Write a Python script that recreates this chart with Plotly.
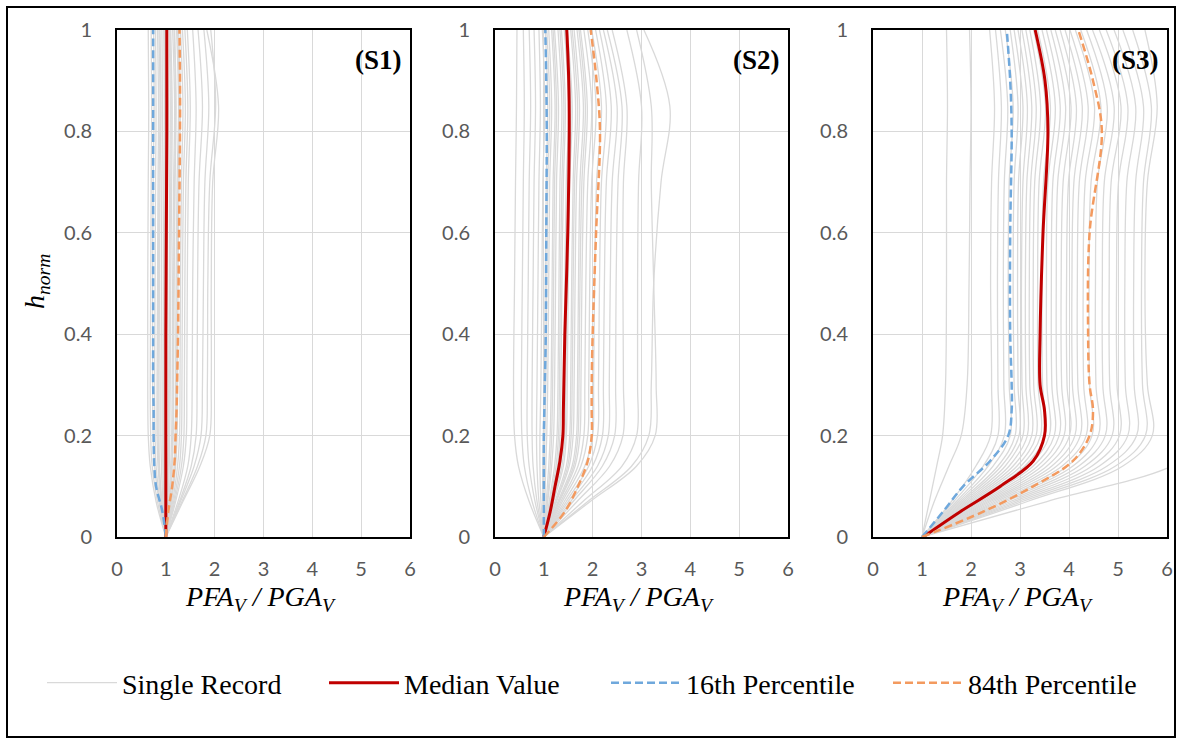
import plotly.graph_objects as go

# ---------------- data ----------------
H_REC = [0, 0.07, 0.14, 0.2, 0.3, 0.5, 0.7, 0.85, 1.0]
H_STAT = [0, 0.05, 0.1, 0.15, 0.2, 0.25, 0.3, 0.4, 0.6, 0.8, 0.9, 1.0]

S1_RECORDS = [
    [1, 0.80, 0.68, 0.64, 0.63, 0.63, 0.64, 0.65, 0.64],
    [1, 0.83, 0.72, 0.69, 0.68, 0.69, 0.70, 0.71, 0.70],
    [1, 0.86, 0.77, 0.74, 0.73, 0.73, 0.74, 0.76, 0.75],
    [1, 0.88, 0.80, 0.78, 0.77, 0.78, 0.79, 0.80, 0.79],
    [1, 0.90, 0.84, 0.82, 0.82, 0.83, 0.84, 0.85, 0.83],
    [1, 0.91, 0.86, 0.84, 0.84, 0.85, 0.86, 0.88, 0.86],
    [1, 0.92, 0.87, 0.86, 0.86, 0.87, 0.88, 0.90, 0.88],
    [1, 0.94, 0.91, 0.90, 0.90, 0.91, 0.92, 0.93, 0.92],
    [1, 0.96, 0.94, 0.94, 0.94, 0.95, 0.96, 0.97, 0.96],
    [1, 0.97, 0.96, 0.96, 0.96, 0.97, 0.98, 0.99, 0.97],
    [1, 0.98, 0.97, 0.97, 0.98, 0.99, 1.00, 1.01, 1.00],
    [1, 1.00, 1.01, 1.01, 1.02, 1.03, 1.04, 1.05, 1.03],
    [1, 1.02, 1.04, 1.05, 1.06, 1.07, 1.08, 1.09, 1.07],
    [1, 1.03, 1.05, 1.06, 1.07, 1.08, 1.10, 1.11, 1.09],
    [1, 1.04, 1.07, 1.08, 1.09, 1.10, 1.12, 1.13, 1.10],
    [1, 1.06, 1.10, 1.12, 1.13, 1.14, 1.16, 1.18, 1.14],
    [1, 1.07, 1.12, 1.14, 1.15, 1.16, 1.18, 1.20, 1.17],
    [1, 1.08, 1.13, 1.15, 1.16, 1.17, 1.19, 1.21, 1.18],
    [1, 1.10, 1.17, 1.19, 1.20, 1.21, 1.23, 1.26, 1.22],
    [1, 1.11, 1.19, 1.21, 1.22, 1.23, 1.25, 1.28, 1.24],
    [1, 1.12, 1.20, 1.23, 1.24, 1.25, 1.27, 1.30, 1.26],
    [1, 1.14, 1.24, 1.28, 1.29, 1.30, 1.32, 1.35, 1.30],
    [1, 1.16, 1.28, 1.32, 1.33, 1.34, 1.36, 1.40, 1.34],
    [1, 1.18, 1.32, 1.37, 1.38, 1.39, 1.41, 1.45, 1.39],
    [1, 1.20, 1.36, 1.42, 1.43, 1.44, 1.46, 1.50, 1.44],
    [1, 1.25, 1.45, 1.52, 1.54, 1.55, 1.58, 1.62, 1.55],
    [1, 1.28, 1.52, 1.62, 1.64, 1.65, 1.68, 1.75, 1.66],
    [1, 1.30, 1.58, 1.72, 1.75, 1.77, 1.80, 1.88, 1.78],
    [1, 1.33, 1.65, 1.82, 1.85, 1.86, 1.90, 2.02, 1.92],
    [1, 1.35, 1.70, 1.90, 1.93, 1.93, 1.96, 2.08, 1.84],
]

S2_RECORDS = [
    [1, 0.70, 0.48, 0.40, 0.38, 0.40, 0.42, 0.44, 0.45],
    [1, 0.76, 0.60, 0.55, 0.54, 0.56, 0.58, 0.60, 0.58],
    [1, 0.82, 0.70, 0.66, 0.66, 0.68, 0.70, 0.73, 0.70],
    [1, 0.86, 0.78, 0.76, 0.76, 0.78, 0.80, 0.83, 0.80],
    [1, 0.90, 0.86, 0.85, 0.86, 0.88, 0.90, 0.93, 0.90],
    [1, 0.94, 0.92, 0.92, 0.94, 0.96, 0.98, 1.02, 0.97],
    [1, 0.98, 0.98, 0.99, 1.01, 1.03, 1.05, 1.08, 1.03],
    [1, 1.00, 1.01, 1.02, 1.04, 1.06, 1.08, 1.12, 1.06],
    [1, 1.02, 1.04, 1.06, 1.08, 1.10, 1.12, 1.16, 1.10],
    [1, 1.05, 1.10, 1.13, 1.15, 1.17, 1.19, 1.23, 1.16],
    [1, 1.07, 1.13, 1.16, 1.18, 1.20, 1.22, 1.26, 1.19],
    [1, 1.08, 1.16, 1.20, 1.22, 1.24, 1.26, 1.30, 1.22],
    [1, 1.11, 1.22, 1.27, 1.29, 1.31, 1.33, 1.37, 1.29],
    [1, 1.13, 1.25, 1.30, 1.32, 1.34, 1.37, 1.41, 1.33],
    [1, 1.14, 1.28, 1.33, 1.35, 1.37, 1.40, 1.44, 1.36],
    [1, 1.17, 1.34, 1.39, 1.41, 1.43, 1.46, 1.51, 1.42],
    [1, 1.19, 1.37, 1.43, 1.45, 1.47, 1.50, 1.55, 1.45],
    [1, 1.20, 1.40, 1.46, 1.48, 1.50, 1.53, 1.58, 1.48],
    [1, 1.23, 1.46, 1.53, 1.55, 1.57, 1.60, 1.65, 1.55],
    [1, 1.25, 1.49, 1.56, 1.58, 1.60, 1.63, 1.69, 1.58],
    [1, 1.26, 1.52, 1.60, 1.62, 1.64, 1.67, 1.73, 1.62],
    [1, 1.29, 1.58, 1.67, 1.69, 1.71, 1.74, 1.81, 1.68],
    [1, 1.31, 1.61, 1.70, 1.72, 1.74, 1.78, 1.85, 1.72],
    [1, 1.32, 1.64, 1.74, 1.76, 1.78, 1.82, 1.89, 1.75],
    [1, 1.35, 1.70, 1.82, 1.84, 1.86, 1.90, 1.98, 1.82],
    [1, 1.38, 1.76, 1.90, 1.92, 1.94, 1.98, 2.07, 1.90],
    [1, 1.42, 1.84, 2.00, 2.02, 2.04, 2.08, 2.18, 1.98],
    [1, 1.46, 1.92, 2.10, 2.12, 2.14, 2.18, 2.28, 2.06],
    [1, 1.50, 2.00, 2.20, 2.22, 2.24, 2.28, 2.38, 2.14],
    [1, 1.55, 2.10, 2.32, 2.34, 2.36, 2.40, 2.50, 2.22],
    [1, 1.60, 2.20, 2.45, 2.47, 2.48, 2.52, 2.60, 2.30],
    [1, 1.68, 2.35, 2.62, 2.63, 2.62, 2.63, 2.70, 2.40],
    [1, 1.80, 2.60, 2.90, 2.92, 2.92, 2.94, 3.00, 2.70],
    [1, 1.95, 2.90, 3.28, 3.30, 3.25, 3.20, 3.20, 2.90],
    [1, 1.90, 2.80, 3.15, 3.20, 3.25, 3.40, 3.58, 3.05],
]

S3_RECORDS = [
    [1, 1.15, 1.30, 1.42, 1.48, 1.50, 1.50, 1.52, 1.50],
    [1, 1.25, 1.55, 1.80, 1.92, 1.96, 1.98, 2.00, 1.97],
    [1, 1.60, 2.10, 2.40, 2.42, 2.40, 2.42, 2.48, 2.38],
    [1, 1.65, 2.25, 2.55, 2.55, 2.54, 2.56, 2.62, 2.50],
    [1, 1.70, 2.35, 2.68, 2.67, 2.66, 2.68, 2.75, 2.60],
    [1, 1.74, 2.45, 2.80, 2.78, 2.76, 2.78, 2.86, 2.70],
    [1, 1.78, 2.55, 2.90, 2.88, 2.86, 2.88, 2.96, 2.80],
    [1, 1.82, 2.62, 2.98, 2.96, 2.95, 2.97, 3.06, 2.88],
    [1, 1.86, 2.70, 3.06, 3.04, 3.03, 3.06, 3.15, 2.96],
    [1, 1.90, 2.78, 3.15, 3.12, 3.11, 3.14, 3.24, 3.04],
    [1, 1.94, 2.86, 3.24, 3.20, 3.19, 3.22, 3.33, 3.12],
    [1, 1.98, 2.94, 3.33, 3.28, 3.27, 3.30, 3.42, 3.20],
    [1, 2.02, 3.02, 3.42, 3.37, 3.36, 3.39, 3.52, 3.28],
    [1, 2.06, 3.10, 3.51, 3.46, 3.45, 3.48, 3.62, 3.36],
    [1, 2.10, 3.18, 3.60, 3.55, 3.54, 3.57, 3.72, 3.45],
    [1, 2.15, 3.27, 3.70, 3.65, 3.64, 3.67, 3.82, 3.54],
    [1, 2.20, 3.36, 3.80, 3.75, 3.74, 3.77, 3.93, 3.63],
    [1, 2.25, 3.45, 3.90, 3.85, 3.84, 3.88, 4.04, 3.72],
    [1, 2.30, 3.55, 4.01, 3.96, 3.95, 3.99, 4.15, 3.82],
    [1, 2.35, 3.65, 4.12, 4.07, 4.06, 4.10, 4.27, 3.92],
    [1, 2.40, 3.75, 4.23, 4.18, 4.17, 4.21, 4.39, 4.02],
    [1, 2.46, 3.86, 4.35, 4.30, 4.29, 4.33, 4.52, 4.13],
    [1, 2.52, 3.97, 4.47, 4.42, 4.41, 4.45, 4.65, 4.24],
    [1, 2.58, 4.08, 4.60, 4.55, 4.54, 4.58, 4.78, 4.36],
    [1, 2.65, 4.20, 4.74, 4.69, 4.68, 4.72, 4.92, 4.48],
    [1, 2.72, 4.33, 4.88, 4.83, 4.82, 4.86, 5.06, 4.62],
    [1, 2.80, 4.47, 5.03, 4.98, 4.97, 5.01, 5.20, 4.76],
    [1, 2.88, 4.62, 5.20, 5.15, 5.14, 5.18, 5.36, 4.92],
    [1, 2.96, 4.78, 5.38, 5.33, 5.32, 5.36, 5.52, 5.10],
    [1, 3.05, 4.95, 5.56, 5.50, 5.48, 5.52, 5.68, 5.30],
    [1, 3.15, 5.10, 5.70, 5.60, 5.55, 5.60, 5.80, 5.55],
    [1, 3.55, 6.10, 7.00, 7.20, 7.20, 7.20, 7.20, 7.20],
]

MEDIAN = {
    "S1": [1, 1.00, 1.00, 1.00, 1.00, 1.00, 1.00, 1.00, 1.01, 1.02, 1.02, 1.02],
    "S2": [1, 1.13, 1.23, 1.33, 1.39, 1.40, 1.41, 1.43, 1.49, 1.52, 1.51, 1.47],
    "S3": [1.02, 1.78, 2.60, 3.27, 3.50, 3.50, 3.41, 3.41, 3.47, 3.57, 3.51, 3.31],
}
P16 = {
    "S1": [1, 0.93, 0.80, 0.76, 0.75, 0.75, 0.74, 0.74, 0.74, 0.74, 0.74, 0.74],
    "S2": [1, 1.00, 1.00, 1.00, 1.00, 1.01, 1.02, 1.04, 1.05, 1.06, 1.05, 1.03],
    "S3": [1, 1.43, 1.84, 2.39, 2.76, 2.83, 2.83, 2.80, 2.80, 2.83, 2.80, 2.73],
}
P84 = {
    "S1": [1, 1.05, 1.13, 1.18, 1.20, 1.22, 1.23, 1.25, 1.27, 1.29, 1.29, 1.28],
    "S2": [1, 1.43, 1.70, 1.90, 1.98, 1.98, 1.98, 2.00, 2.07, 2.15, 2.08, 1.96],
    "S3": [1, 2.25, 3.27, 4.08, 4.42, 4.49, 4.42, 4.39, 4.42, 4.67, 4.49, 4.19],
}

PANELS = ["S1", "S2", "S3"]
RECORDS = {"S1": S1_RECORDS, "S2": S2_RECORDS, "S3": S3_RECORDS}
X_TICKS = [0, 1, 2, 3, 4, 5, 6]
Y_TICKS = [0, 0.2, 0.4, 0.6, 0.8, 1]
LEGEND_NAMES = ["Single Record", "Median Value", "16th Percentile", "84th Percentile"]

# ---------------- style ----------------
W, H = 1178, 740
X_DOMAINS = [(117, 410), (495, 788), (873, 1167)]
Y_TOP, Y_BOT = 30, 537
GRAY = "#d9d9d9"
RED = "#c00000"
BLUE = "#6fa8dc"
ORANGE = "#f39a5f"
SERIF = "Liberation Serif, Times New Roman, serif"
SANS = "Lato, Open Sans, sans-serif"

fig = go.Figure()

for i, p in enumerate(PANELS):
    xa = "x" if i == 0 else f"x{i+1}"
    ya = "y" if i == 0 else f"y{i+1}"
    for j, rec in enumerate(RECORDS[p]):
        fig.add_trace(go.Scatter(
            x=rec, y=H_REC, xaxis=xa, yaxis=ya, mode="lines",
            line=dict(color=GRAY, width=1.3, shape="spline"),
            name=LEGEND_NAMES[0], legendgroup="rec",
            showlegend=(i == 0 and j == 0), hoverinfo="skip",
        ))
    fig.add_trace(go.Scatter(
        x=MEDIAN[p], y=H_STAT, xaxis=xa, yaxis=ya, mode="lines",
        line=dict(color=RED, width=3, shape="spline"),
        name=LEGEND_NAMES[1], legendgroup="med", showlegend=(i == 0),
    ))
    fig.add_trace(go.Scatter(
        x=P16[p], y=H_STAT, xaxis=xa, yaxis=ya, mode="lines",
        line=dict(color=BLUE, width=2.5, dash="8px,4px", shape="spline"),
        name=LEGEND_NAMES[2], legendgroup="p16", showlegend=(i == 0),
    ))
    fig.add_trace(go.Scatter(
        x=P84[p], y=H_STAT, xaxis=xa, yaxis=ya, mode="lines",
        line=dict(color=ORANGE, width=2.5, dash="8px,4px", shape="spline"),
        name=LEGEND_NAMES[3], legendgroup="p84", showlegend=(i == 0),
    ))

layout = dict(
    width=W, height=H, margin=dict(l=0, r=0, t=0, b=0, pad=0, autoexpand=False),
    paper_bgcolor="white", plot_bgcolor="white",
    showlegend=True,
    legend=dict(
        orientation="h", x=42 / W, xanchor="left", y=1 - 683 / H, yanchor="middle",
        font=dict(family=SERIF, size=28, color="black"),
        entrywidth=197, entrywidthmode="pixels", itemwidth=70,
        bgcolor="rgba(0,0,0,0)",
    ),
)

annotations = []
for i, p in enumerate(PANELS):
    sfx = "" if i == 0 else str(i + 1)
    x0, x1 = X_DOMAINS[i]
    common_axis = dict(showline=True, linecolor="black", linewidth=2, mirror=True,
                       showgrid=True, gridcolor=GRAY, gridwidth=1, zeroline=False,
                       automargin=False,
                       ticks="", tickfont=dict(family=SANS, size=20, color="#595959"))
    layout["xaxis" + sfx] = dict(
        common_axis, domain=[x0 / W, x1 / W], range=[0, 6], tickvals=X_TICKS,
        anchor="y" + sfx, ticklabelstandoff=13, fixedrange=True,
    )
    layout["yaxis" + sfx] = dict(
        common_axis, domain=[1 - Y_BOT / H, 1 - Y_TOP / H], range=[0, 1],
        tickvals=Y_TICKS, anchor="x" + sfx, ticklabelstandoff=19, fixedrange=True,
    )
    annotations.append(dict(
        xref=f"x{sfx} domain", yref="paper", x=0.49, y=1 - 598 / H,
        text="<i>PFA<sub>V</sub> / PGA<sub>V</sub></i>", showarrow=False,
        font=dict(family=SERIF, size=28, color="black"), xanchor="center", yanchor="middle",
    ))
    annotations.append(dict(
        xref=f"x{sfx} domain", yref="paper", x=0.98, y=1 - 60 / H,
        text=f"<b>({p})</b>", showarrow=False,
        font=dict(family=SERIF, size=27, color="black"), xanchor="right", yanchor="middle",
    ))

annotations.append(dict(
    xref="paper", yref="paper", x=36 / W, y=1 - 282 / H, textangle=-90,
    text="<i>h<sub>norm</sub></i>", showarrow=False,
    font=dict(family=SERIF, size=28, color="black"), xanchor="center", yanchor="middle",
))
layout["annotations"] = annotations
layout["shapes"] = [dict(
    type="rect", xref="paper", yref="paper",
    x0=7 / W, x1=1175 / W, y0=1 - 737 / H, y1=1 - 7 / H,
    line=dict(color="black", width=2), fillcolor="rgba(0,0,0,0)", layer="below",
)]

fig.update_layout(**layout)
fig.write_html(
    "out.html",
    config={"displayModeBar": False},
    post_script="document.body.style.margin='0px';document.body.style.overflow='hidden';",
)
